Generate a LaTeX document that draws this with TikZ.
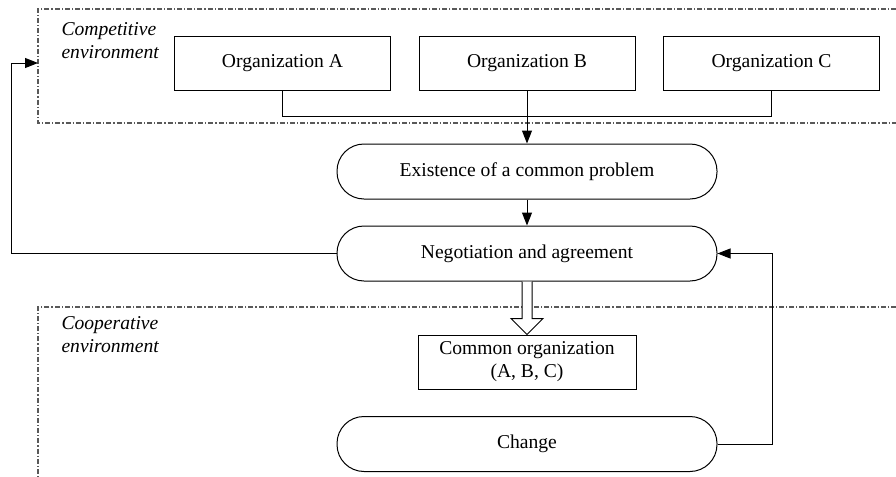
\documentclass[tikz,border=0pt]{standalone}
\usepackage{fontspec}
\setmainfont{Liberation Serif}
\usetikzlibrary{arrows.meta,calc}
\begin{document}
\begin{tikzpicture}[x=0.5pt,y=-0.5pt, line width=0.5pt,
  font=\fontsize{9.8}{11.5}\selectfont,
  env/.style={draw=gray!70!black, dash pattern=on 2.5pt off 1pt on 0.6pt off 1pt, line width=0.55pt},
  orgbox/.style={draw, minimum width=108pt, minimum height=27pt, inner sep=0pt},
  pill/.style={draw, rounded corners=13.5pt, minimum width=190pt, minimum height=27.5pt, inner sep=0pt},
  arr/.style={-{Triangle[length=6.5pt,width=5pt]}},
  lbl/.style={font=\fontsize{9.8}{11.5}\selectfont\itshape, align=left, anchor=north west, inner sep=0pt}]
\useasboundingbox (0,0) rectangle (896,477);
% environments
\draw[env] (896,9) -- (38,9) -- (38,123) -- (896,123);
\draw[env] (896,307) -- (38,307) -- (38,477);
\coordinate (compL) at (38,63);
\node[lbl] (cl) at (61,22) {Competitive\\environment};
\node[lbl] (col) at (61,316) {Cooperative\\environment};
% nodes
\node[orgbox] (A) at (282.5,63) {Organization A};
\node[orgbox] (B) at (527,63) {Organization B};
\node[orgbox] (C) at (771.5,63) {Organization C};
\node[pill] (E) at (527,171.5) {Existence of a common problem};
\node[pill] (N) at (527,253.5) {Negotiation and agreement};
\node[draw, minimum width=109pt, minimum height=27pt, align=center, inner sep=0pt] (O) at (527,362) {Common organization\\(A, B, C)};
\node[pill] (Ch) at (527,444) {Change};
% connectors
\draw (A.south) -- ++(0,25.5) -| (C.south);
\draw[arr] (B.south) -- (E.north);
\draw[arr] (E.south) -- (N.north);
\draw[arr] (N.west) -- ++(-325,0) |- (compL);
\draw[arr] (Ch.east) -- ++(55,0) |- (N.east);
\draw[fill=white] ($(N.south)+(-5,0)$) -- ($(N.south)+(-5,37)$) -- ($(N.south)+(-16,37)$) -- (O.north) -- ($(N.south)+(16,37)$) -- ($(N.south)+(5,37)$) -- ($(N.south)+(5,0)$);
\end{tikzpicture}
\end{document}
